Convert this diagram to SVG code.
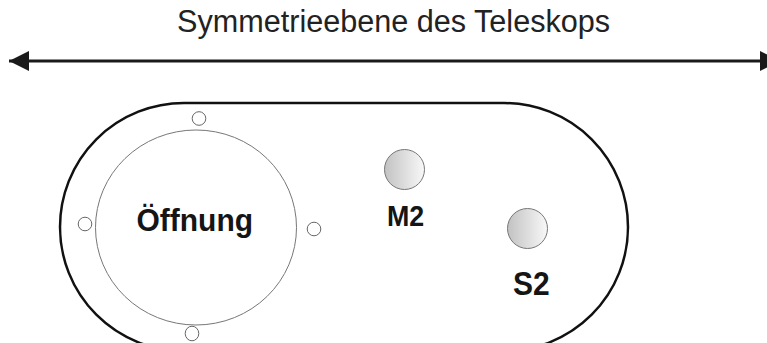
<svg xmlns="http://www.w3.org/2000/svg" width="767" height="343" viewBox="0 0 767 343">
<style>
.title{font-family:"Liberation Sans",Arial,sans-serif;font-size:30.6px;fill:#222}
.lbl{font-family:"Liberation Sans",Arial,sans-serif;font-weight:bold;fill:#151515}
.hole{fill:#fff;stroke:#666;stroke-width:1}
.mirror{fill:url(#g);stroke:#777;stroke-width:1}
</style>
<defs>
<linearGradient id="g" x1="0" y1="0" x2="1" y2="0">
<stop offset="0" stop-color="#c2c2c2"/>
<stop offset="1" stop-color="#f8f8f8"/>
</linearGradient>
<marker id="ah" viewBox="0 0 20 20" refX="20" refY="10" markerWidth="20" markerHeight="20" markerUnits="userSpaceOnUse" orient="auto-start-reverse">
<path d="M0,0 L20,10 L0,20 Z" fill="#1a1a1a"/>
</marker>
</defs>
<rect width="767" height="343" fill="#fff"/>
<text class="title" x="177" y="32">Symmetrieebene des Teleskops</text>
<g id="connectors">
<path d="M9,61 H780" stroke="#1a1a1a" stroke-width="3.2" fill="none" marker-start="url(#ah)" marker-end="url(#ah)"/>
</g>
<g id="plate">
<path d="M184,103 H504 A124,124 0 0 1 504,351 H184 A124,124 0 0 1 184,103 Z" fill="none" stroke="#111" stroke-width="2.5"/>
</g>
<g id="oeffnung">
<ellipse cx="196" cy="227.5" rx="100.5" ry="97.5" fill="none" stroke="#777" stroke-width="1"/>
<circle class="hole" cx="199" cy="118.5" r="6.8"/>
<circle class="hole" cx="85" cy="224" r="6.8"/>
<circle class="hole" cx="314" cy="229" r="6.8"/>
<ellipse class="hole" cx="192" cy="333.5" rx="6.8" ry="7.3"/>
<text class="lbl" font-size="30" transform="translate(136.5,231) scale(1,1.07)">Öffnung</text>
</g>
<g id="M2">
<circle class="mirror" cx="404.5" cy="169.5" r="20"/>
<text class="lbl" font-size="26.8" transform="translate(387,226) scale(1,1.12)">M2</text>
</g>
<g id="S2">
<circle class="mirror" cx="527.5" cy="228.5" r="20"/>
<text class="lbl" font-size="30" transform="translate(513,295) scale(1,1.1)">S2</text>
</g>
</svg>
